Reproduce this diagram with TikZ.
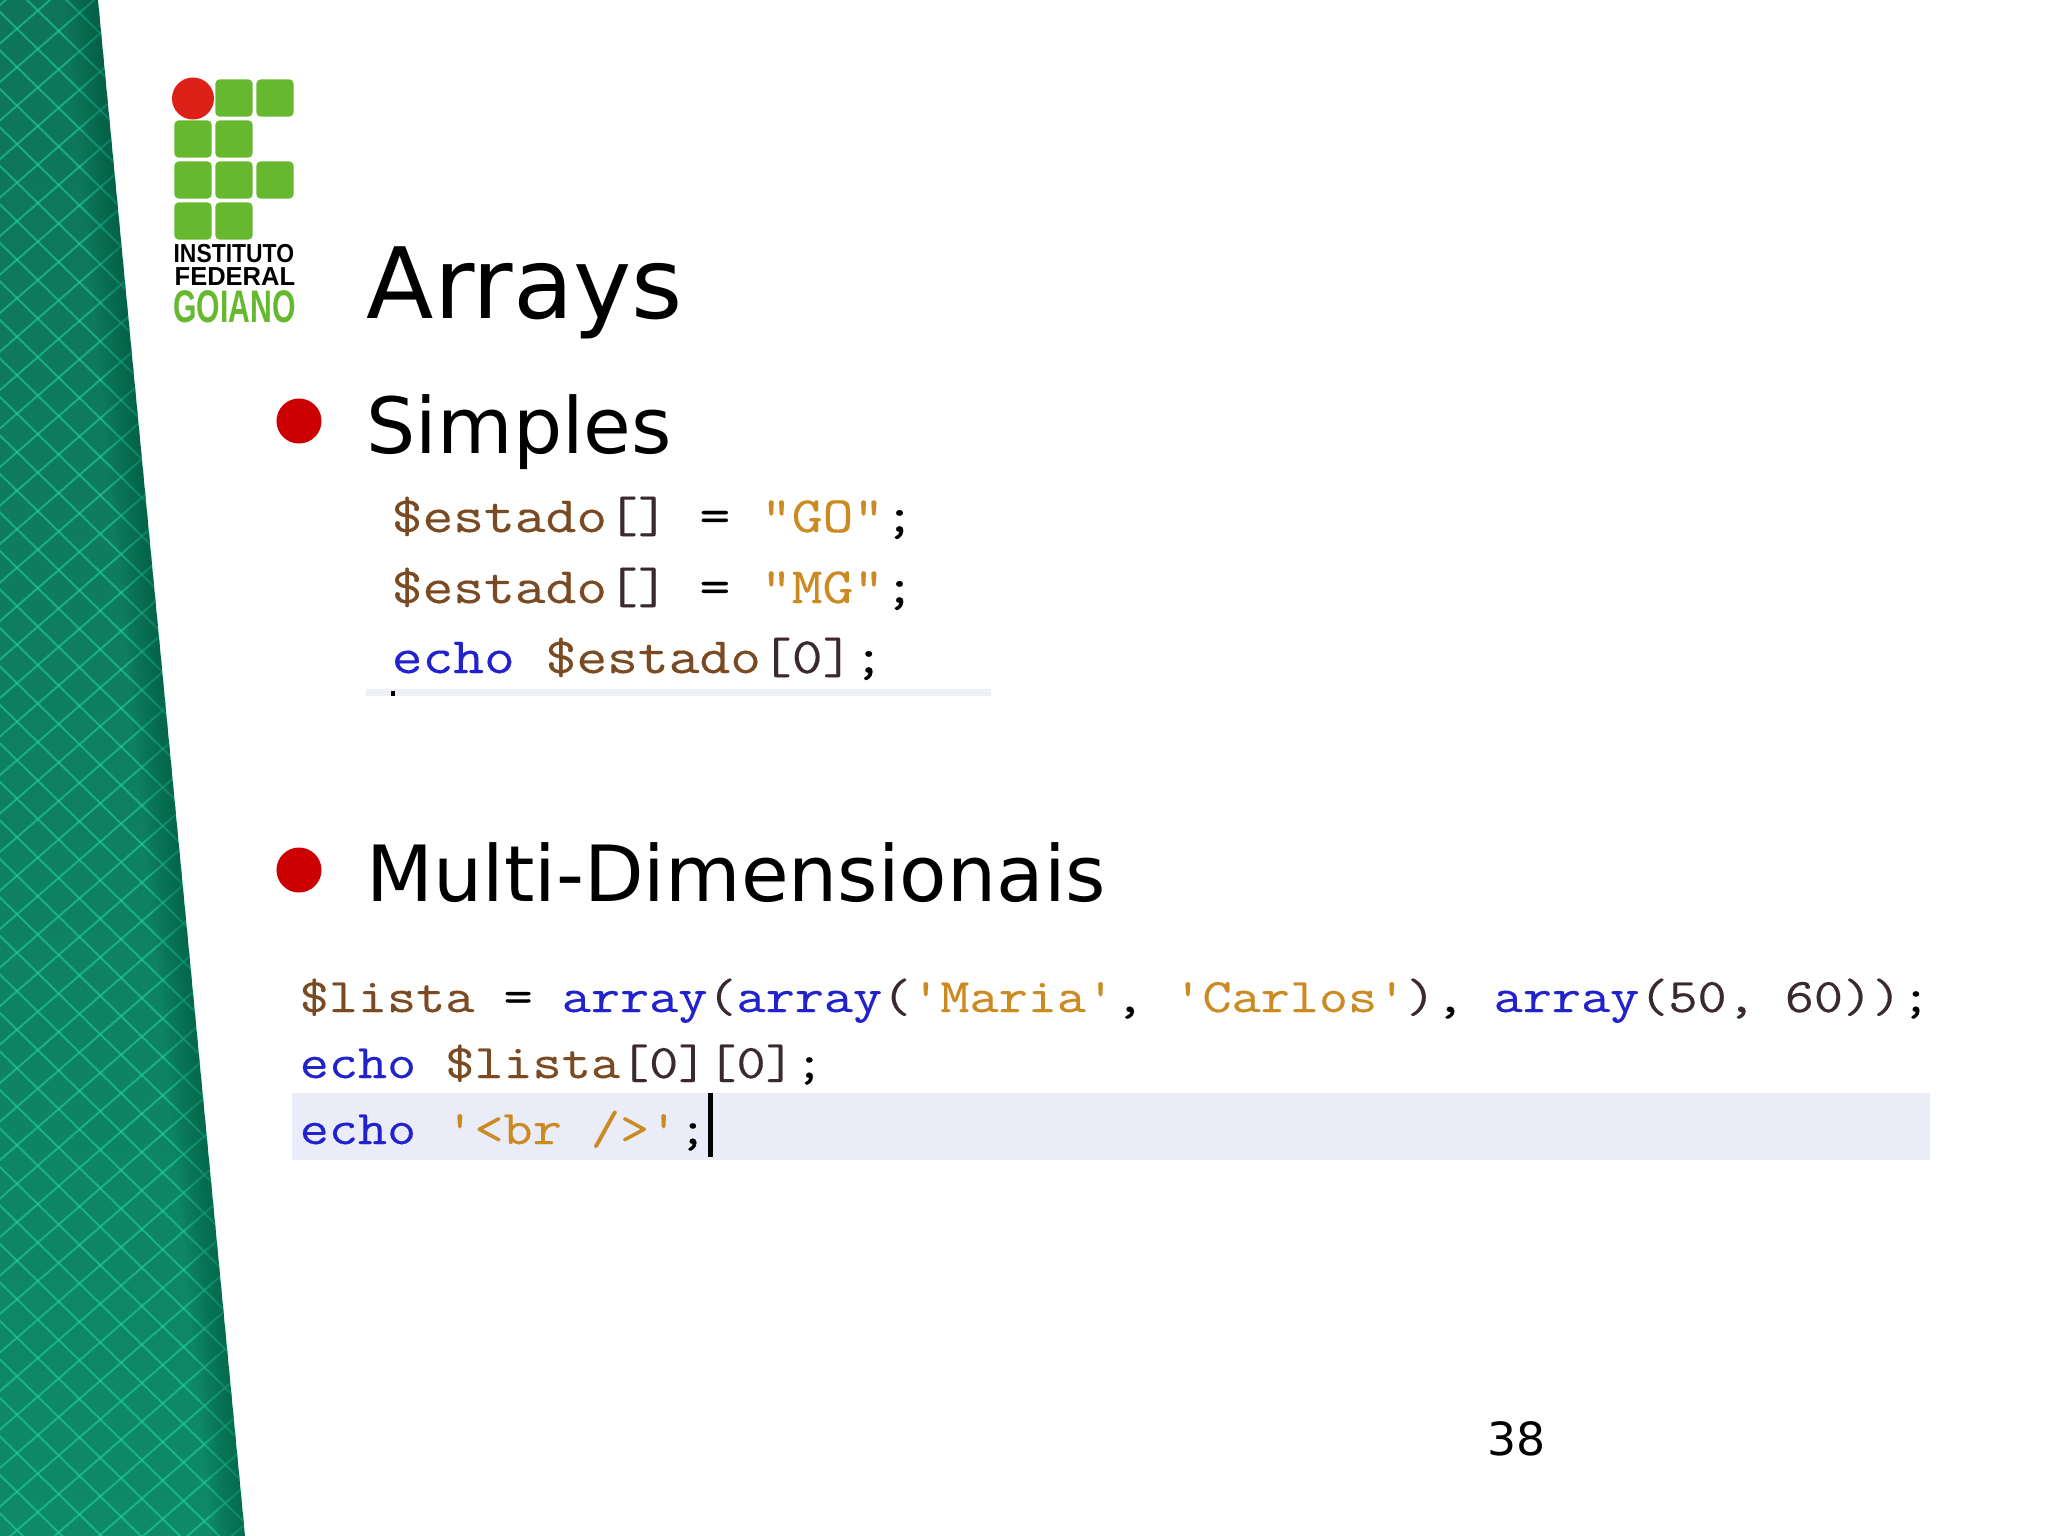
\documentclass[tikz,border=0pt]{standalone}
\usepackage{fontspec}
\setmainfont{DejaVu Sans}
\newfontfamily\codefont[FakeStretch=1.172,FakeBold=0.3]{Latin Modern Mono}
\newfontfamily\logofont{Liberation Sans}
\usetikzlibrary{positioning}
\definecolor{bandtop}{HTML}{0E7558}
\definecolor{bandmid}{HTML}{109C74}
\definecolor{bandlow}{HTML}{0E8A66}
\definecolor{banddark}{HTML}{04503A}
\definecolor{bandline}{HTML}{1FD0A4}
\definecolor{logogreen}{HTML}{66B82F}
\definecolor{logored}{HTML}{DD2118}
\definecolor{bulletred}{HTML}{CC0000}
\definecolor{codeblue}{HTML}{2222CC}
\definecolor{codebrown}{HTML}{7A4A22}
\definecolor{codeorange}{HTML}{CC8A22}
\definecolor{codedark}{HTML}{3A2A30}
\definecolor{linegray}{HTML}{EAEDF8}
\definecolor{stripgray}{HTML}{EEF0F6}
\newcommand{\kw}[1]{\textcolor{codeblue}{#1}}
\newcommand{\var}[1]{\textcolor{codebrown}{#1}}
\newcommand{\str}[1]{\textcolor{codeorange}{#1}}
\newcommand{\brk}[1]{\textcolor{codedark}{#1}}
\tikzset{
    logobox/.style={fill=logogreen,rounded corners=1.1pt,minimum size=37*0.2845pt,inner sep=0pt},
    logotext/.style={anchor=base west,inner sep=0pt,font=\logofont\bfseries\fontsize{7.4}{8}\selectfont},
    heading/.style={anchor=base west,inner sep=0pt,font=\fontsize{22.05}{26}\selectfont},
    bulletdot/.style={circle,fill=bulletred,minimum size=45*0.2845pt,inner sep=0pt},
    codeone/.style={anchor=base west,inner sep=0pt,font=\codefont\fontsize{14.5}{17}\selectfont},
    codetwo/.style={anchor=base west,inner sep=0pt,font=\codefont\fontsize{13.72}{16}\selectfont},
}
\begin{document}
\begin{tikzpicture}[x=0.01cm,y=-0.01cm]
    \useasboundingbox (0,0) rectangle (2048,1536);

    % side band
    \begin{scope}
        \clip (0,0) -- (98,0) -- (245,1536) -- (0,1536) -- cycle;
        \shade[top color=bandtop,middle color=bandmid,bottom color=bandlow] (0,0) rectangle (250,1536);
        \foreach \i in {-60,...,60} {
            \draw[bandline,opacity=0.6,line width=0.55pt] (-100,551+\i*38.5-98) -- (400,551+\i*38.5+392);
            \draw[bandline,opacity=0.6,line width=0.55pt] (-100,775+\i*38.5+87) -- (400,775+\i*38.5-348);
        }
        \foreach \d in {3,6,...,33}
            \fill[banddark,opacity=0.05] (98-\d,0) -- (98,0) -- (245,1536) -- (245-\d,1536) -- cycle;
    \end{scope}

    % logo
    \node (dot) [circle,fill=logored,minimum size=42*0.2845pt,inner sep=0pt] at (193,98.5) {};
    \node (b12) [logobox] at (234,98) {};
    \node (b13) [logobox] at (275,98) {};
    \node (b21) [logobox] at (193,139) {};
    \node (b22) [logobox] at (234,139) {};
    \node (b31) [logobox] at (193,180) {};
    \node (b32) [logobox] at (234,180) {};
    \node (b33) [logobox] at (275,180) {};
    \node (b41) [logobox] at (193,221) {};
    \node (b42) [logobox] at (234,221) {};
    \node (inst) [logotext,xscale=0.88] at (173,262) {INSTITUTO};
    \node (fed) [logotext,xscale=0.98] at (174,285) {FEDERAL};
    \node (goi) [logotext,text=logogreen,xscale=0.66,font=\logofont\bfseries\fontsize{13}{14}\selectfont] at (173,322) {GOIANO};

    % headings
    \node (title) [anchor=base west,inner sep=0pt,font=\fontsize{28}{32}\selectfont] at (366,318) {Arrays};
    \node (simples) [heading] at (366,453) {Simples};
    \node (multi) [heading] at (366,901) {Multi-Dimensionais};
    \node (dotone) [bulletdot] at (299,421) {};
    \node (dottwo) [bulletdot] at (299,870) {};

    % first code block
    \fill[stripgray] (366,689) rectangle (991,696);
    \fill[black] (391,691) rectangle (395,696);
    \node (lineone) [codeone] at (391,532) {\var{\$estado}\brk{[]} = \str{"GO"};};
    \node (linetwo) [codeone] at (391,603) {\var{\$estado}\brk{[]} = \str{"MG"};};
    \node (linethree) [codeone] at (391,673) {\kw{echo} \var{\$estado}\brk{[0]};};

    % second code block
    \fill[linegray] (292,1093) rectangle (1930,1160);
    \node (lista) [codetwo] at (299,1012) {\var{\$lista} = \kw{array}\brk{(}\kw{array}\brk{(}\str{'Maria'}, \str{'Carlos'}\brk{)}, \kw{array}\brk{(50, 60))};};
    \node (echoone) [codetwo] at (299,1078) {\kw{echo} \var{\$lista}\brk{[0][0]};};
    \node (echotwo) [codetwo] at (299,1144) {\kw{echo} \str{'<br />'};};
    \fill[black] (708,1093) rectangle (713,1157);

    \node (page) [anchor=base west,inner sep=0pt,font=\fontsize{13}{16}\selectfont] at (1487,1455) {38};
\end{tikzpicture}
\end{document}
